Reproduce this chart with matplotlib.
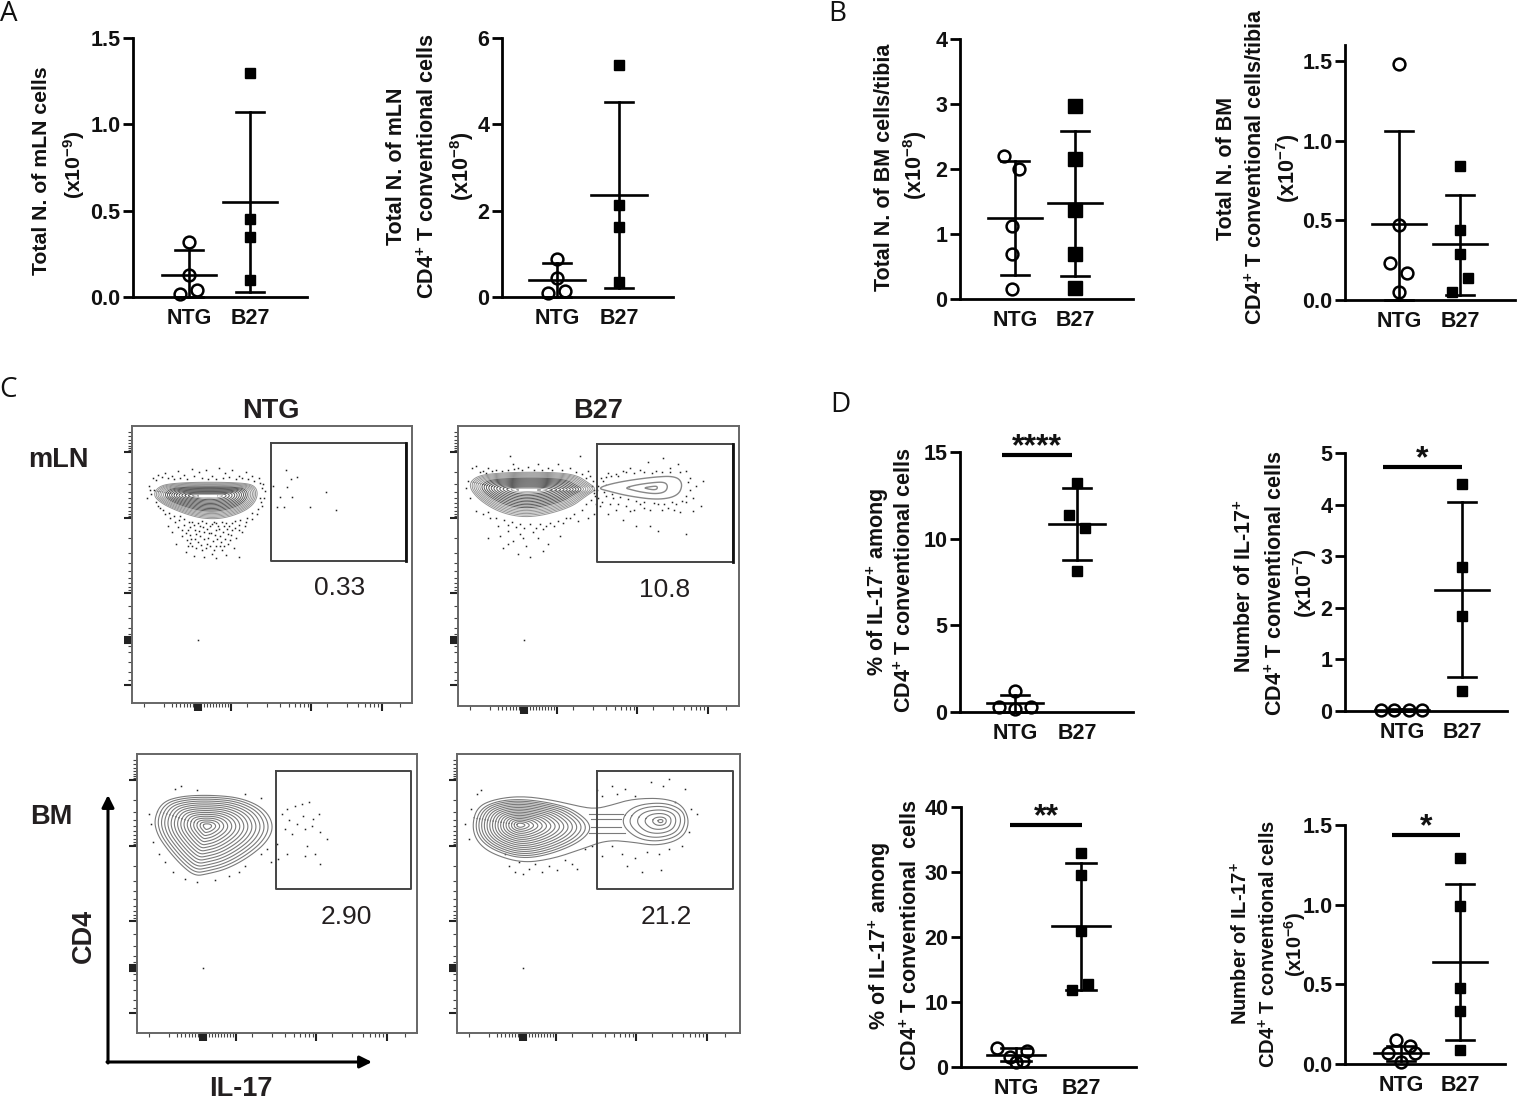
import numpy as np
import matplotlib
matplotlib.use("Agg")
import matplotlib.pyplot as plt

W, H = 1521, 1101
plt.rcParams['font.family'] = ['Liberation Sans', 'DejaVu Sans']
plt.rcParams['mathtext.fontset'] = 'custom'
plt.rcParams['mathtext.rm'] = 'Liberation Sans:bold'
plt.rcParams['mathtext.bf'] = 'Liberation Sans:bold'
plt.rcParams['mathtext.default'] = 'bf'

groups = ["NTG", "B27"]

# panel A - mLN
a1_ntg = [0.32, 0.13, 0.04, 0.02]
a1_ntg_x = [0, 0, 0.13, -0.14]
a1_b27 = [1.30, 0.45, 0.35, 0.10]
a1_b27_x = [0, 0, 0, 0]
a1_stats = [(0.13, 0.0, 0.27), (0.55, 0.03, 1.07)]

a2_ntg = [0.88, 0.45, 0.13, 0.10]
a2_ntg_x = [0, 0, 0.13, -0.14]
a2_b27 = [5.38, 2.12, 1.62, 0.35]
a2_b27_x = [0, 0, 0, 0]
a2_stats = [(0.39, 0.0, 0.78), (2.37, 0.22, 4.52)]

# panel B - BM
b1_ntg = [2.2, 2.0, 1.13, 0.7, 0.15]
b1_ntg_x = [-0.18, 0.07, -0.05, -0.05, -0.05]
b1_b27 = [2.97, 2.15, 1.37, 0.7, 0.17]
b1_b27_x = [0, 0, 0, 0, 0]
b1_stats = [(1.25, 0.37, 2.12), (1.47, 0.35, 2.58)]

b2_ntg = [1.48, 0.47, 0.23, 0.17, 0.05]
b2_ntg_x = [0, 0, -0.15, 0.13, 0]
b2_b27 = [0.84, 0.44, 0.29, 0.14, 0.05]
b2_b27_x = [0, 0, 0, 0.13, -0.13]
b2_stats = [(0.48, 0.0, 1.06), (0.35, 0.03, 0.66)]

# panel D
d1_ntg = [1.2, 0.29, 0.2, 0.29]
d1_ntg_x = [0, -0.26, 0, 0.25]
d1_b27 = [13.2, 11.35, 10.6, 8.15]
d1_b27_x = [0, -0.13, 0.13, 0]
d1_stats = [(0.5, 0.0, 0.96), (10.85, 8.75, 12.9)]

d2_ntg = [0.02, 0.02, 0.02, 0.02]
d2_ntg_x = [-0.35, -0.13, 0.12, 0.33]
d2_b27 = [4.4, 2.8, 1.85, 0.38]
d2_b27_x = [0, 0, 0, 0]
d2_stats = [(0.02, 0.0, 0.04), (2.35, 0.65, 4.05)]

d3_ntg = [3.0, 2.4, 1.6, 0.8, 0.9]
d3_ntg_x = [-0.29, 0.17, -0.1, 0, 0.1]
d3_b27 = [33.0, 29.5, 21.0, 12.8, 11.8]
d3_b27_x = [0, 0, 0, 0.1, -0.14]
d3_stats = [(1.9, 1.0, 2.9), (21.7, 11.9, 31.4)]

d4_ntg = [0.15, 0.11, 0.07, 0.07, 0.01]
d4_ntg_x = [-0.08, 0.15, -0.22, 0.24, 0]
d4_b27 = [1.29, 0.99, 0.48, 0.33, 0.09]
d4_b27_x = [0, 0, 0, 0, 0]
d4_stats = [(0.07, 0.02, 0.11), (0.64, 0.15, 1.13)]

# flow plots, all in channel units of the panel
flow_y_major = [26, 92, 167, 211, 213, 215, 217, 259]
flow_y_minor = [6, 10, 14, 17, 20, 22, 24, 46, 58, 66, 72, 77, 81, 85, 88, 90, 112, 127, 137,
                145, 152, 157, 161, 164, 180, 192, 202, 208, 220, 226, 236, 246, 254]
flow_x_major = [63, 65, 67, 69, 99, 179, 250]
flow_x_minor = [12, 32, 40, 44, 48, 52, 55, 58, 61, 72, 75, 78, 81, 84, 87, 90, 93, 96,
                115, 135, 148, 157, 163, 168, 172, 176, 195, 215, 226, 233, 238, 242, 246, 268]

gate_mln_ntg = (139, 17, 135, 118)
gate_mln_b27 = (139, 18, 136, 118)
gate_bm_ntg = (139, 17, 135, 118)
gate_bm_b27 = (140, 17, 136, 118)

mln_ntg_outline = [(21, 69), (27, 60), (43, 57), (78, 56), (113, 57), (123, 60), (126, 68), (122, 78),
                   (111, 86), (93, 92), (78, 93), (63, 91), (43, 84), (29, 77)]
mln_b27_outline = [(10, 60), (18, 50), (40, 47), (74, 46), (105, 47), (120, 50), (129, 56), (139, 63), (128, 70),
                   (112, 82), (74, 92), (45, 88), (22, 75)]
mln_b27_lobe = [(139, 62), (160, 56), (195, 51), (218, 50), (225, 58), (220, 70), (200, 74), (170, 70), (150, 65)]
bm_ntg_outline = [(17, 65), (25, 48), (45, 42), (75, 41), (105, 44), (128, 55), (137, 72), (130, 88),
                  (112, 103), (90, 115), (70, 120), (58, 122), (45, 112), (30, 95), (20, 80)]
bm_b27_peanut = [(15, 72), (20, 53), (38, 45), (65, 42), (95, 46), (120, 52), (138, 55), (155, 51), (175, 45),
                 (205, 44), (225, 50), (233, 68), (225, 85), (200, 92), (175, 88), (150, 86), (125, 95),
                 (95, 105), (65, 109), (35, 100), (20, 88)]
bm_b27_left = [(18, 72), (23, 55), (40, 47), (65, 45), (95, 49), (118, 56), (136, 72), (125, 87),
               (95, 100), (65, 105), (38, 97), (23, 86)]
bm_b27_right = [(163, 68), (175, 52), (205, 48), (225, 55), (229, 68), (222, 82), (200, 88), (178, 84)]

mln_ntg_dots = [(17, 60), (19, 68), (15, 72), (21, 52), (26, 49), (33, 47), (40, 50), (46, 45), (52, 49), (60, 43),
                (67, 46), (74, 44), (80, 50), (87, 42), (93, 47), (100, 44), (107, 50), (114, 46), (120, 50), (127, 52),
                (131, 58), (133, 65), (132, 72), (130, 80), (125, 88), (120, 93), (114, 96), (107, 99), (100, 104),
                (28, 82), (33, 88), (38, 92), (43, 96), (48, 90), (52, 99), (56, 104), (60, 96), (64, 108), (68, 100),
                (72, 106), (76, 112), (80, 98), (84, 104), (88, 110), (92, 100), (96, 108), (104, 112), (110, 106),
                (50, 110), (55, 114), (60, 120), (66, 116), (70, 124), (75, 118), (80, 128), (84, 120), (90, 124),
                (96, 118), (102, 122), (44, 118), (40, 106), (36, 100), (62, 130), (72, 131), (84, 132), (107, 131),
                (54, 126), (94, 129), (58, 101), (70, 95), (82, 96), (90, 96), (100, 97),
                (24, 54), (30, 51), (36, 52), (42, 53), (48, 52), (55, 53), (62, 50), (70, 52), (76, 53), (84, 53),
                (91, 52), (97, 51), (104, 53), (110, 52), (116, 53), (122, 55), (128, 57), (130, 62), (128, 72),
                (129, 76), (126, 83), (120, 87), (115, 92), (24, 76), (26, 80), (22, 64), (18, 64), (31, 84),
                (37, 87), (42, 90), (47, 94), (52, 93), (57, 96), (62, 99), (66, 97), (74, 97), (78, 100), (84, 97),
                (86, 100), (94, 97), (97, 100), (103, 95), (108, 94), (113, 100), (46, 101), (50, 104), (54, 107),
                (58, 109), (63, 104), (67, 105), (71, 101), (75, 103), (79, 107), (83, 109), (87, 103), (91, 106),
                (95, 103), (99, 109), (103, 102), (107, 104), (59, 113), (63, 113), (68, 110), (72, 113), (77, 107),
                (81, 115), (85, 113), (89, 116), (93, 113), (98, 114), (69, 119), (74, 122), (78, 120), (82, 124),
                (58, 117), (88, 120), (64, 122), (56, 120), (92, 120),
                (154, 44), (165, 51), (159, 53), (145, 81), (152, 81), (178, 81), (204, 84), (194, 66), (155, 61),
                (148, 71), (160, 71), (141, 60), (66, 214)]
mln_b27_dots = [(8, 62), (10, 55), (12, 72), (14, 42), (18, 40), (25, 45), (30, 42), (38, 44), (52, 30), (55, 38),
                (60, 42), (70, 41), (80, 38), (90, 42), (100, 38), (112, 42), (122, 30), (130, 45), (135, 55), (137, 70),
                (138, 78), (136, 88), (130, 92), (120, 95), (112, 92), (105, 97), (96, 100), (85, 103), (75, 106),
                (62, 108), (50, 105), (40, 100), (32, 92), (25, 88), (18, 85), (30, 112), (42, 110), (55, 115), (68, 120),
                (80, 112), (90, 118), (102, 110), (45, 122), (60, 128), (72, 131), (85, 125), (50, 118), (65, 112),
                (22, 46), (28, 47), (34, 45), (44, 45), (50, 44), (56, 43), (64, 44), (76, 44), (84, 44), (94, 44),
                (104, 44), (118, 46), (124, 48), (128, 52), (132, 50), (134, 60), (136, 64), (136, 67), (133, 74),
                (128, 78), (124, 84), (116, 88), (108, 92), (100, 95), (92, 97), (82, 98), (72, 98), (62, 98), (54, 96),
                (46, 94), (38, 92), (30, 86), (50, 99), (58, 101), (66, 102), (78, 102), (88, 100),
                (145, 55), (150, 47), (158, 48), (165, 45), (172, 42), (182, 44), (190, 36), (198, 45), (205, 32),
                (212, 42), (220, 38), (228, 45), (232, 52), (238, 60), (235, 72), (228, 76), (218, 78), (210, 82),
                (200, 78), (192, 84), (182, 78), (172, 85), (160, 78), (150, 88), (142, 80), (148, 70), (155, 72),
                (165, 94), (178, 100), (192, 100), (200, 105), (228, 108), (235, 85), (245, 55), (243, 80),
                (143, 52), (148, 51), (153, 50), (160, 50), (168, 46), (176, 47), (186, 46), (194, 47), (204, 46),
                (212, 46), (222, 46), (230, 56), (232, 64), (228, 70), (224, 75), (214, 76), (206, 78), (196, 77),
                (186, 76), (178, 75), (170, 73), (162, 71), (154, 68), (146, 66), (140, 72), (144, 76), (152, 78),
                (158, 84), (168, 80), (176, 84), (186, 82), (204, 84), (216, 84), (222, 86), (140, 60), (139, 64),
                (66, 214)]
bm_ntg_dots = [(12, 60), (14, 70), (38, 35), (44, 32), (60, 36), (108, 40), (124, 44), (16, 88), (22, 100), (28, 108),
               (36, 118), (48, 125), (60, 128), (78, 126), (92, 122), (102, 118), (108, 112), (124, 100), (130, 95),
               (134, 108), (140, 90), (145, 60), (150, 55), (152, 66), (158, 52), (165, 50), (166, 62), (172, 48),
               (176, 65), (182, 60), (148, 75), (155, 80), (160, 70), (168, 75), (175, 72), (183, 78), (190, 85),
               (170, 92), (183, 110), (150, 100), (141, 105), (168, 102), (178, 100), (66, 214)]
bm_b27_dots = [(8, 70), (12, 85), (14, 55), (20, 40), (24, 36), (48, 100), (52, 112), (58, 118), (62, 108), (66, 120),
               (72, 115), (78, 110), (85, 118), (92, 112), (100, 116), (108, 106), (115, 110), (120, 115), (128, 95),
               (135, 92), (140, 36), (145, 42), (155, 32), (160, 40), (168, 35), (178, 42), (194, 28), (206, 32),
               (212, 25), (218, 48), (228, 35), (234, 55), (240, 60), (232, 78), (225, 92), (212, 95), (202, 100),
               (190, 98), (178, 104), (165, 100), (155, 92), (145, 102), (170, 112), (185, 118), (204, 116), (66, 214)]

ring_count_mln = 18
ring_count_bm = 16


def chaikin(points, rounds=3):
    p = np.array(points, dtype=float)
    for _ in range(rounds):
        nxt = np.roll(p, -1, axis=0)
        p = np.column_stack([0.75 * p + 0.25 * nxt, 0.25 * p + 0.75 * nxt]).reshape(-1, 2)
    return np.vstack([p, p[:1]])


def rings(ax, outline, center, scales, color='#7a7a7a', lw=0.8):
    c = np.array(center, dtype=float)
    smooth = chaikin(outline)
    for s in scales:
        r = c + s * (smooth - c)
        ax.plot(r[:, 0], r[:, 1], color=color, lw=lw, zorder=3)


def dense_rings(ax, outline, center, n):
    # y closes faster than x so the inner contours run out into a flat streak, dark in the middle
    c = np.array(center, dtype=float)
    smooth = chaikin(outline)
    scales = np.linspace(1, 0.05, n)
    for s in scales:
        r = c + np.array([s ** 0.55, s]) * (smooth - c)
        shade = '#949494' if s > 0.72 else ('#5a5a5a' if s > 0.12 else '#a0a0a0')
        ax.plot(r[:, 0], r[:, 1], color=shade, lw=0.7, zorder=3)
    ax.plot([c[0] - 8, c[0] + 8], [c[1], c[1]], color='white', lw=1.6, zorder=3.5)


def px_axes(left, top, right, bottom):
    return fig.add_axes([left / W, 1 - bottom / H, (right - left) / W, (bottom - top) / H])


def flow_panel(rect, gate, dots, thick_right=False):
    ax = px_axes(*rect)
    ax.set_xlim(0, rect[2] - rect[0])
    ax.set_ylim(rect[3] - rect[1], 0)
    for s in ax.spines.values():
        s.set_color('#666666')
        s.set_linewidth(1.4)
    ax.set_xticks(flow_x_major)
    ax.set_xticks(flow_x_minor, minor=True)
    ax.set_yticks(flow_y_major)
    ax.set_yticks(flow_y_minor, minor=True)
    ax.tick_params(which='major', length=6, width=1.5, color='#222222', labelbottom=False, labelleft=False)
    ax.tick_params(which='minor', length=3, width=0.8, color='#444444')
    x, y, w, h = gate
    ax.plot([x, x + w, x + w, x, x], [y, y, y + h, y + h, y], color='#444444', lw=1.4, zorder=4)
    if thick_right:
        ax.plot([x + w, x + w], [y, y + h], color='#111111', lw=2, zorder=4)
    d = np.array(dots)
    ax.plot(d[:, 0], d[:, 1], ls='none', marker='s', ms=1.1, mew=0, color='#222222', zorder=2)
    return ax


def dot_panel(rect, ymax, ytop, yticks, ylabels, ntg, ntg_x, b27, b27_x, stats, centers, sig=None, square=7.5):
    left, top, right, bottom = rect
    # top is the pixel row of ymax, ytop may run the spine a little higher
    ppy = (bottom - top) / ymax
    axtop = bottom - ytop * ppy
    ax = px_axes(left, axtop, right, bottom)
    ppu = centers[1] - centers[0]
    ax.set_xlim((left - centers[0]) / ppu, (right - centers[0]) / ppu)
    ax.set_ylim(0, ytop)
    ax.spines['top'].set_visible(False)
    ax.spines['right'].set_visible(False)
    ax.spines['left'].set_linewidth(2)
    ax.spines['bottom'].set_linewidth(2)
    ax.set_xticks([0, 1])
    ax.set_xticklabels(groups, fontsize=15.5, fontweight='bold', color='#111111')
    ax.set_yticks(yticks)
    ax.set_yticklabels(ylabels, fontsize=15.5, fontweight='bold', color='#111111')
    ax.tick_params(axis='y', length=7, width=2, pad=2)
    ax.tick_params(axis='x', length=0, pad=8)
    for i, (mean, lo, hi) in enumerate(stats):
        ax.plot([i, i], [lo, hi], color='k', lw=1.9, clip_on=False, zorder=3)
        ax.plot([i - 0.23, i + 0.23], [lo, lo], color='k', lw=1.9, clip_on=False, zorder=3)
        ax.plot([i - 0.23, i + 0.23], [hi, hi], color='k', lw=1.9, clip_on=False, zorder=3)
        ax.plot([i - 0.45, i + 0.45], [mean, mean], color='k', lw=1.9, clip_on=False, zorder=3)
    ax.plot(ntg_x, ntg, ls='none', marker='o', ms=8.5, mfc='none', mec='k', mew=1.8, clip_on=False, zorder=4)
    ax.plot(1 + np.array(b27_x), b27, ls='none', marker='s', ms=square, color='k', clip_on=False, zorder=4)
    if sig:
        x0, x1, y, stars = sig
        ax.plot([x0, x1], [y, y], color='k', lw=3, clip_on=False, solid_capstyle='butt')
        ax.annotate(stars, ((x0 + x1) / 2, y), xytext=(0, -5), textcoords='offset points', ha='center',
                    va='bottom', fontsize=23, fontweight='bold', annotation_clip=False, color='#111111')
    return ax


fig = plt.figure(figsize=(W / 100, H / 100), dpi=100)

dot_panel((133, 38, 307, 297), 1.5, 1.5, [0, 0.5, 1, 1.5], ["0.0", "0.5", "1.0", "1.5"],
          a1_ntg, a1_ntg_x, a1_b27, a1_b27_x, a1_stats, (189, 250))
dot_panel((502, 38, 673, 297), 6, 6, [0, 2, 4, 6], ["0", "2", "4", "6"],
          a2_ntg, a2_ntg_x, a2_b27, a2_b27_x, a2_stats, (557, 619))
dot_panel((960, 39, 1133, 299), 4, 4, [0, 1, 2, 3, 4], ["0", "1", "2", "3", "4"],
          b1_ntg, b1_ntg_x, b1_b27, b1_b27_x, b1_stats, (1015, 1075), square=9.5)
dot_panel((1345, 61, 1515, 300), 1.5, 1.6, [0, 0.5, 1, 1.5], ["0.0", "0.5", "1.0", "1.5"],
          b2_ntg, b2_ntg_x, b2_b27, b2_b27_x, b2_stats, (1399, 1460))
dot_panel((960, 452, 1133, 712), 15, 15, [0, 5, 10, 15], ["0", "5", "10", "15"],
          d1_ntg, d1_ntg_x, d1_b27, d1_b27_x, d1_stats, (1015, 1077), sig=(-0.21, 0.92, 14.83, "****"))
dot_panel((1345, 453, 1507, 711), 5, 5, [0, 1, 2, 3, 4, 5], ["0", "1", "2", "3", "4", "5"],
          d2_ntg, d2_ntg_x, d2_b27, d2_b27_x, d2_stats, (1402, 1462), sig=(-0.32, 1.0, 4.73, "*"))
dot_panel((961, 807, 1136, 1067), 40, 40, [0, 10, 20, 30, 40], ["0", "10", "20", "30", "40"],
          d3_ntg, d3_ntg_x, d3_b27, d3_b27_x, d3_stats, (1016, 1081), sig=(-0.09, 1.02, 37.2, "**"))
dot_panel((1345, 825, 1505, 1064), 1.5, 1.5, [0, 0.5, 1, 1.5], ["0.0", "0.5", "1.0", "1.5"],
          d4_ntg, d4_ntg_x, d4_b27, d4_b27_x, d4_stats, (1401, 1460), sig=(-0.15, 1.0, 1.437, "*"))

# flow cytometry panels
ax = flow_panel((132, 426, 412, 703), gate_mln_ntg, mln_ntg_dots, thick_right=True)
dense_rings(ax, mln_ntg_outline, (76, 70), ring_count_mln)
ax = flow_panel((458, 426, 739, 706), gate_mln_b27, mln_b27_dots, thick_right=True)
dense_rings(ax, mln_b27_outline, (70, 64), ring_count_mln)
rings(ax, mln_b27_lobe, (195, 62), [1, 0.5, 0.15], color='#888888', lw=1.0)
ax = flow_panel((137, 754, 417, 1033), gate_bm_ntg, bm_ntg_dots)
rings(ax, bm_ntg_outline, (70, 72), np.linspace(1, 0.07, ring_count_bm))
ax = flow_panel((457, 754, 740, 1033), gate_bm_b27, bm_b27_dots)
rings(ax, bm_b27_peanut, (120, 68), [1.0])
rings(ax, bm_b27_left, (63, 71), np.linspace(1, 0.07, ring_count_bm))
rings(ax, bm_b27_right, (204, 67), [1, 0.82, 0.62, 0.42, 0.22, 0.08])
ax.plot([132, 166], [60, 60], color='#7a7a7a', lw=0.8, zorder=3)
ax.plot([134, 164], [65, 65], color='#7a7a7a', lw=0.8, zorder=3)
ax.plot([134, 164], [73, 73], color='#7a7a7a', lw=0.8, zorder=3)
ax.plot([132, 168], [79, 79], color='#7a7a7a', lw=0.8, zorder=3)

# overlay in image pixels for the texts and arrows
ov = fig.add_axes([0, 0, 1, 1], zorder=10)
ov.set_xlim(0, W)
ov.set_ylim(H, 0)
ov.axis('off')
ov.patch.set_alpha(0)

y_labels = [
    ("Total N. of mLN cells", 42, 171, 15.3), (r"(x10$^{-9}$)", 74, 165, 15.3),
    ("Total N. of mLN", 397, 166, 15.5), (r"CD4$^{+}$ T conventional cells", 428, 166, 15.5), (r"(x10$^{-8}$)", 462, 166, 15.5),
    ("Total N. of BM cells/tibia", 885, 167, 15.5), (r"(x10$^{-8}$)", 915, 165, 15.5),
    ("Total N. of BM", 1226, 168, 15.5), (r"CD4$^{+}$ T conventional cells/tibia", 1256, 167, 15.5), (r"(x10$^{-7}$)", 1288, 168, 15.5),
    (r"% of IL-17$^{+}$ among", 878, 582, 15.5), (r"CD4$^{+}$ T conventional cells", 905, 580, 15.5),
    (r"Number of IL-17$^{+}$", 1245, 586, 15.5), (r"CD4$^{+}$ T conventional cells", 1276, 583, 15.5), (r"(x10$^{-7}$)", 1305, 583, 15.5),
    (r"% of IL-17$^{+}$ among", 880, 936, 15.5), (r"CD4$^{+}$ T conventional  cells", 911, 935, 15.5),
    (r"Number of IL-17$^{+}$", 1241, 943, 14.5), (r"CD4$^{+}$ T conventional cells", 1269, 944, 14.5), (r"(x10$^{-6}$)", 1295, 945, 14.5),
]
for txt, x, y, size in y_labels:
    ov.text(x, y, txt, rotation=90, ha='center', va='center', fontsize=size, fontweight='bold', color='#111111')

for txt, x, y in [("A", 9, 14), ("B", 837, 14), ("C", 8, 390), ("D", 840, 405)]:
    ov.text(x, y, txt, ha='center', va='center', fontsize=20, family='Open Sans', color='#111111')

for txt, x, y in [("NTG", 271, 411), ("B27", 598, 411), ("mLN", 58, 460), ("BM", 51, 817), ("IL-17", 241, 1089)]:
    ov.text(x, y, txt, ha='center', va='center', fontsize=19.5, fontweight='bold', color='#231f20')
ov.text(84, 936, "CD4", rotation=90, ha='center', va='center', fontsize=19.5, fontweight='bold', color='#231f20')

for txt, x, y in [("0.33", 340, 588), ("10.8", 665, 590), ("2.90", 346, 917), ("21.2", 666, 917)]:
    ov.text(x, y, txt, ha='center', va='center', fontsize=19, color='#231f20')

ov.annotate("", xy=(108, 795), xytext=(108, 1063),
            arrowprops=dict(arrowstyle='-|>', lw=2.2, color='k', shrinkA=0, shrinkB=0, mutation_scale=18))
ov.annotate("", xy=(372, 1062), xytext=(107, 1062),
            arrowprops=dict(arrowstyle='-|>', lw=2.2, color='k', shrinkA=0, shrinkB=0, mutation_scale=18))

fig.savefig("out.png", dpi=100)
